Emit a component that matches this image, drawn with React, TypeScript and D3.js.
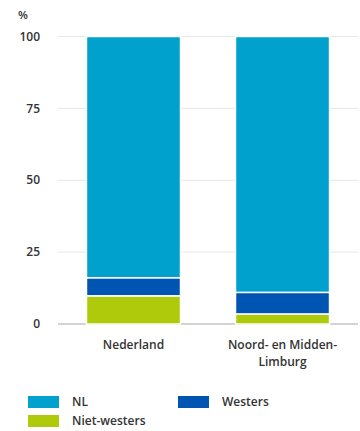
import React from "react";
import * as d3 from "d3";

const categories = ["Nederland", "Noord- en Midden-\nLimburg"];
const seriesKeys = ["nietWesters", "westers", "nl"];
const nietWesters = [9.8, 3.5];
const westers = [6.3, 7.5];
const nl = [83.9, 89.0];
const yTicks = [0, 25, 50, 75, 100];
const colors = ["#afca0b", "#0055b3", "#00a1cd"];

export default function App() {
  const W = 360, H = 431;
  const y = d3.scaleLinear().domain([0, 100]).range([324, 36.5]);
  const x = d3.scaleBand().domain(categories).range([58, 358]).paddingInner(0.369).paddingOuter(0.191);
  const rows = categories.map((c, i) => ({ cat: c, nietWesters: nietWesters[i], westers: westers[i], nl: nl[i] }));
  const stacked = d3.stack<any>().keys(seriesKeys)(rows);
  const font = "'Open Sans', 'Noto Sans', sans-serif";
  const legend = [
    { label: "NL", color: colors[2], x: 28, y: 396 },
    { label: "Westers", color: colors[1], x: 178, y: 396 },
    { label: "Niet-westers", color: colors[0], x: 28, y: 415 },
  ];
  return (
    <svg width={W} height={H} style={{ position: "absolute", left: 0, top: 0 }} fontFamily={font}>
      <text x={18} y={19} fontSize={11.5} fontWeight={600} fill="#333">%</text>
      {yTicks.map((t) => (
        <g key={t}>
          <line x1={58} x2={358} y1={y(t)} y2={y(t)} stroke={t === 0 ? "#c4c4c4" : "#e8e8e8"} strokeWidth={t === 0 ? 1.5 : 1} />
          <text x={40} y={y(t)} dy="0.35em" textAnchor="end" fontSize={12} fontWeight={600} fill="#333">{t}</text>
        </g>
      ))}
      {stacked.map((s, si) => (
        <g key={s.key} fill={colors[si]}>
          {s.map((d: any, i: number) => (
            <rect key={i} x={x(categories[i])} width={x.bandwidth()} y={y(d[1])} height={y(d[0]) - y(d[1])} stroke="#fff" strokeWidth={1.5} />
          ))}
        </g>
      ))}
      {categories.map((c) => (
        <text key={c} textAnchor="middle" fontSize={12} fontWeight={600} fill="#333">
          {c.split("\n").map((line, li) => (
            <tspan key={li} x={(x(c) as number) + x.bandwidth() / 2} y={349 + li * 17}>{line}</tspan>
          ))}
        </text>
      ))}
      {legend.map((l) => (
        <g key={l.label}>
          <rect x={l.x} y={l.y} width={31} height={12} fill={l.color} />
          <text x={l.x + 44} y={l.y + 6} dy="0.35em" fontSize={12} fontWeight={600} fill="#333">{l.label}</text>
        </g>
      ))}
    </svg>
  );
}
